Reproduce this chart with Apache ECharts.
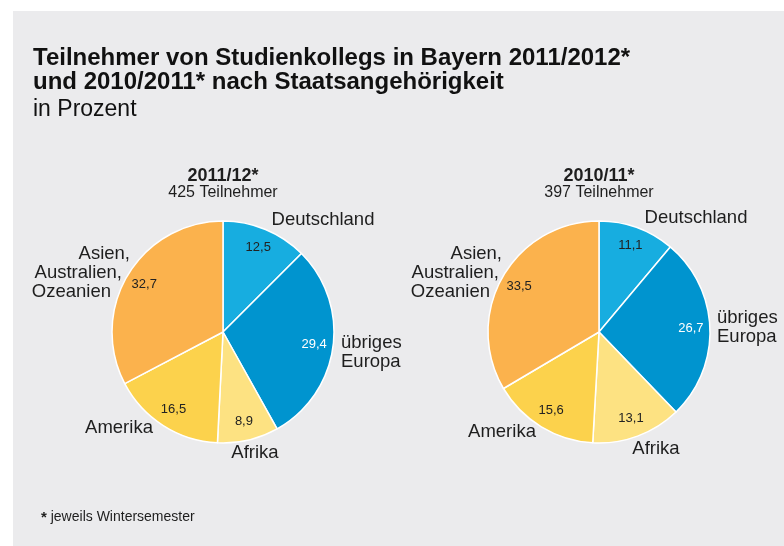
<!DOCTYPE html>
<html>
<head>
<meta charset="utf-8">
<script src="https://cdn.jsdelivr.net/npm/echarts@6/dist/echarts.min.js"></script>
<style>
  html, body { margin: 0; padding: 0; background: #ffffff; }
  #chart { width: 784px; height: 546px; }
</style>
</head>
<body>
<div id="chart"></div>
<script>
const chartDom = document.getElementById('chart');
const myChart = echarts.init(chartDom);

// data
const categories = ['Deutschland', 'übriges\nEuropa', 'Afrika', 'Amerika', 'Asien,\nAustralien,\nOzeanien'];
const values2011 = [12.5, 29.4, 8.9, 16.5, 32.7];
const values2010 = [11.1, 26.7, 13.1, 15.6, 33.5];
const colors = ['#17ade0', '#0094cf', '#fde282', '#fcd24c', '#fbb24d'];
const valueColors = ['#222', '#fff', '#222', '#222', '#222'];

const font = 'Liberation Sans, Arial, sans-serif';
const textColor = '#1e1e1e';
const radius = 111;
const centers = [[223, 332], [599, 332]];

// name label offsets relative to each pie center
const nameOffsets = [
    [[100, -112, 'center'], [118, 20, 'left'], [32, 121, 'center'], [-104, 96, 'center'], [-93, -59, 'right']],
    [[97, -114, 'center'], [118, -5, 'left'], [57, 117, 'center'], [-97, 100, 'center'], [-97, -59, 'right']]
];
// stagger of the three lines of the Asien label
const asiaPad = [[0, 8, 19], [0, 3, 12]];

function fmt(v) {
    return v.toFixed(1).replace('.', ',');
}

function pieSeries(values, idx) {
    const pad = asiaPad[idx];
    const lbl = { fontSize: 18.5, lineHeight: 19, color: textColor, fontFamily: font };
    const names = {
        type: 'pie',
        center: centers[idx],
        radius: [0, radius],
        startAngle: 90,
        clockwise: true,
        avoidLabelOverlap: false,
        silent: true,
        itemStyle: { borderColor: '#ffffff', borderWidth: 1.5 },
        label: Object.assign({
            show: true,
            position: 'outside',
            formatter: function (p) {
                if (p.dataIndex === 4) {
                    return p.name.split('\n').map(function (s, k) {
                        return '{l' + k + '|' + s + '}';
                    }).join('\n');
                }
                return p.name;
            },
            rich: {
                l0: Object.assign({ padding: [0, pad[0], 0, 0] }, lbl),
                l1: Object.assign({ padding: [0, pad[1], 0, 0] }, lbl),
                l2: Object.assign({ padding: [0, pad[2], 0, 0] }, lbl)
            }
        }, lbl),
        labelLine: { show: false },
        labelLayout: function (p) {
            const o = nameOffsets[idx][p.dataIndex];
            return {
                x: centers[idx][0] + o[0],
                y: centers[idx][1] + o[1],
                align: o[2],
                verticalAlign: 'middle'
            };
        },
        data: categories.map(function (name, i) {
            return { name: name, value: values[i], itemStyle: { color: colors[i] } };
        })
    };
    // transparent ring that only carries the value labels
    const nums = {
        type: 'pie',
        center: centers[idx],
        radius: [67, radius],
        startAngle: 90,
        clockwise: true,
        avoidLabelOverlap: false,
        silent: true,
        z: 3,
        itemStyle: { color: 'rgba(0,0,0,0)', borderWidth: 0 },
        label: {
            show: true,
            position: 'inside',
            fontFamily: font,
            fontSize: 13,
            formatter: function (p) { return fmt(p.value); }
        },
        labelLine: { show: false },
        data: categories.map(function (name, i) {
            return {
                name: name,
                value: values[i],
                label: { color: valueColors[i] },
                itemStyle: { color: 'rgba(0,0,0,0)' }
            };
        })
    };
    return [names, nums];
}

const option = {
    backgroundColor: '#ffffff',
    animation: false,
    graphic: [{
        type: 'rect',
        z: -10,
        shape: { x: 13, y: 11, width: 771, height: 535 },
        style: { fill: '#ebebed' }
    }],
    title: [{
        text: 'Teilnehmer von Studienkollegs in Bayern 2011/2012*\nund 2010/2011* nach Staatsangehörigkeit',
        subtext: 'in Prozent',
        left: 33,
        top: 46,
        padding: 0,
        itemGap: 5,
        textStyle: { fontFamily: font, fontSize: 24, fontWeight: 'bold', lineHeight: 24, color: '#111' },
        subtextStyle: { fontFamily: font, fontSize: 23, lineHeight: 22, color: '#111' }
    }, {
        text: '2011/12*',
        subtext: '425 Teilnehmer',
        left: centers[0][0],
        textAlign: 'center',
        top: 167,
        padding: 0,
        itemGap: 0,
        textStyle: { fontFamily: font, fontSize: 18, fontWeight: 'bold', lineHeight: 18, color: textColor },
        subtextStyle: { fontFamily: font, fontSize: 16, lineHeight: 16, color: textColor }
    }, {
        text: '2010/11*',
        subtext: '397 Teilnehmer',
        left: centers[1][0],
        textAlign: 'center',
        top: 167,
        padding: 0,
        itemGap: 0,
        textStyle: { fontFamily: font, fontSize: 18, fontWeight: 'bold', lineHeight: 18, color: textColor },
        subtextStyle: { fontFamily: font, fontSize: 16, lineHeight: 16, color: textColor }
    }, {
        text: '{b|*} jeweils Wintersemester',
        left: 41,
        top: 510,
        padding: 0,
        textStyle: {
            fontFamily: font, fontSize: 14, fontWeight: 'normal', color: textColor,
            rich: { b: { fontFamily: font, fontSize: 15, fontWeight: 'bold', color: textColor } }
        }
    }],
    series: pieSeries(values2011, 0).concat(pieSeries(values2010, 1))
};

myChart.setOption(option);
</script>
</body>
</html>
